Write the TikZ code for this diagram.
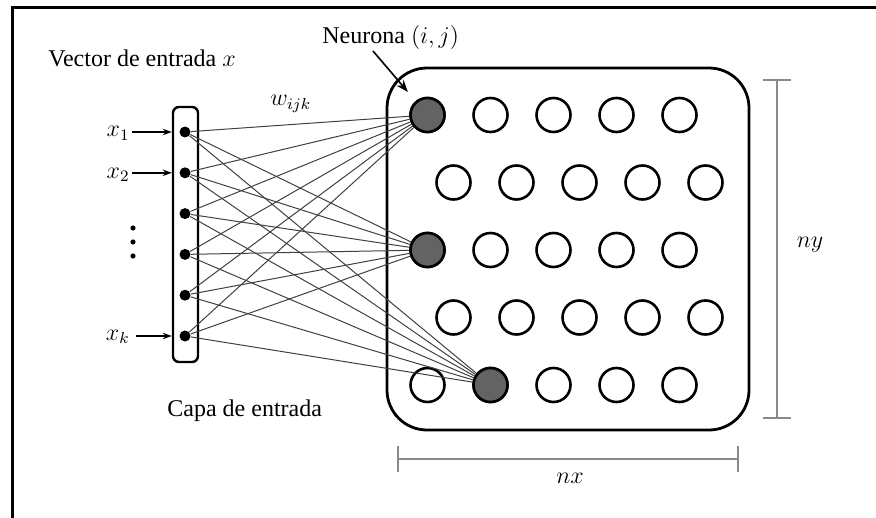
\documentclass[tikz,border=0pt]{standalone}
\usepackage{fontspec}
\setmainfont{Liberation Serif}
\usetikzlibrary{arrows.meta}
\definecolor{actgray}{HTML}{636363}
\definecolor{connc}{HTML}{404040}
\definecolor{dimgray}{HTML}{8A8A8A}
\begin{document}
\begin{tikzpicture}[x=0.5pt,y=-0.5pt,
  neuron/.style={circle,draw,line width=1.3pt,minimum size=17pt,inner sep=0pt},
  active/.style={neuron,fill=actgray},
  indot/.style={circle,fill=black,minimum size=5.5pt,inner sep=0pt},
  smalldot/.style={circle,fill=black,minimum size=2.6pt,inner sep=0pt},
  conn/.style={draw=connc,line width=0.5pt},
  dimline/.style={draw=dimgray,line width=1pt},
  lbl/.style={inner sep=0pt,font=\fontsize{12}{14}\selectfont},
  inarrow/.style={-{Stealth[length=4.5pt,width=3.2pt]},line width=0.8pt}]
\useasboundingbox (0,0) rectangle (876,518);
% frame
\draw[line width=1.5pt] (12.5,518) -- (12.5,7.5) -- (876,7.5);
% big grid box
\node (grid) [draw,rounded corners=20pt,line width=1.4pt,minimum width=181pt,minimum height=181pt,inner sep=0pt] at (568,249) {};
% input box
\node (inbox) [draw,rounded corners=3pt,line width=1.2pt,minimum width=12.5pt,minimum height=127.5pt,inner sep=0pt] at (185.5,234.5) {};
% input dots
\foreach \i in {1,...,6} {
  \node[indot] (in\i) at (185,{132+40.8*(\i-1)}) {};
}
% neurons
\foreach \r in {1,3,5} {
  \foreach \c in {1,...,5} {
    \node[neuron] (n\r\c) at ({427.5+63*(\c-1)},{115+67.5*(\r-1)}) {};
  }
}
\foreach \r in {2,4} {
  \foreach \c in {1,...,5} {
    \node[neuron] (n\r\c) at ({453.5+63*(\c-1)},{115+67.5*(\r-1)}) {};
  }
}
\node[active] at (n11) {};
\node[active] at (n31) {};
\node[active] at (n52) {};
% connections
\foreach \i in {1,...,6} {
  \foreach \t in {n11,n31,n52} {
    \draw[conn] (in\i) -- (\t);
  }
}
% labels
\node[lbl,anchor=base west] (vec) at (48,67) {Vector de entrada $x$};
\node[lbl,anchor=base west] (neu) at (322,44) {Neurona $(i,j)$};
\node[lbl,anchor=base west] (capa) at (167,416) {Capa de entrada};
\node[lbl,anchor=base west] (w) at (270,106) {$w_{ijk}$};
\node[lbl,anchor=base east,inner sep=1pt] (x1) at (132,137) {$x_1$};
\node[lbl,anchor=base east,inner sep=1pt] (x2) at (132,178) {$x_2$};
\node[lbl,anchor=base east,inner sep=1pt] (xk) at (132,340) {$x_k$};
\draw[inarrow] (x1.east |- in1) -- (inbox.west |- in1);
\draw[inarrow] (x2.east |- in2) -- (inbox.west |- in2);
\draw[inarrow] ([xshift=2pt]xk.east |- in6) -- (inbox.west |- in6);
% vertical dots
\node[smalldot] (vd1) at (133,228) {};
\node[smalldot] (vd2) at (133,242) {};
\node[smalldot] (vd3) at (133,256) {};
% neurona arrow
\coordinate (narr) at (373,51);
\draw[-{Stealth[length=6pt,width=4.5pt]},line width=0.8pt,shorten >=6pt] (narr) -- (n11);
% dimensions
\coordinate (nyt) at (777,80);
\coordinate (nyb) at (777,418);
\draw[dimline] (nyt) -- (nyb);
\draw[dimline] ([xshift=-7pt]nyt) -- ([xshift=7pt]nyt);
\draw[dimline] ([xshift=-7pt]nyb) -- ([xshift=7pt]nyb);
\node[lbl] (ny) at (810,245) {$ny$};
\coordinate (nxl) at (398,459);
\coordinate (nxr) at (738,459);
\draw[dimline] (nxl) -- (nxr);
\draw[dimline] ([yshift=-6.5pt]nxl) -- ([yshift=6.5pt]nxl);
\draw[dimline] ([yshift=-6.5pt]nxr) -- ([yshift=6.5pt]nxr);
\node[lbl] (nx) at (570,478) {$nx$};
\end{tikzpicture}
\end{document}
